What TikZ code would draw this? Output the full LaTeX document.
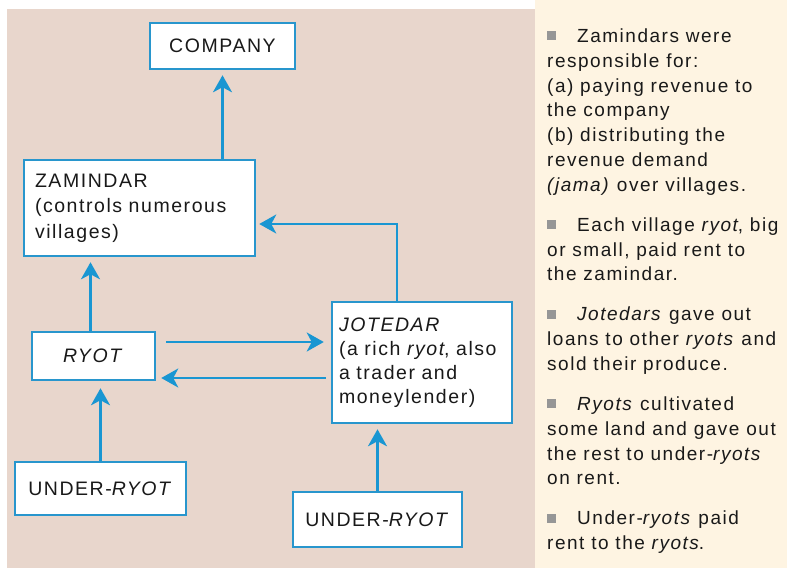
\documentclass[tikz,border=0pt]{standalone}
\usepackage{fontspec}
\setmainfont{Liberation Sans}[LetterSpace=8]
\usetikzlibrary{arrows.meta}
\definecolor{bgpink}{RGB}{232,214,204}
\definecolor{bgcream}{RGB}{254,244,226}
\definecolor{boxblue}{RGB}{40,150,205}
\definecolor{arrblue}{RGB}{25,150,210}
\definecolor{txt}{RGB}{25,25,25}
\definecolor{bulletgray}{RGB}{150,150,150}
\newcommand{\sqbullet}{\makebox[30pt][l]{\textcolor{bulletgray}{\raisebox{2pt}{\rule{9pt}{9pt}}}}}
\begin{document}
\begin{tikzpicture}[x=1pt,y=-1pt,
  box/.style={draw=boxblue, line width=2.5pt, fill=white, inner sep=0pt, text=txt,
    font=\fontsize{19.5}{25.5}\selectfont},
  conn/.style={draw=arrblue, line width=2.8pt, -{Stealth[length=17pt,width=19pt,inset=5pt]}},
  sidetext/.style={anchor=north west, inner sep=0pt, align=left, text=txt,
    font=\fontsize{19}{24.8}\selectfont}]
\useasboundingbox (0,0) rectangle (787,568);
\fill[white] (0,0) rectangle (787,568);
\fill[bgpink] (7,9) rectangle (535,568);
\fill[bgcream] (535,0) rectangle (787,568);

\node[box, minimum width=145pt, minimum height=46pt] (comp) at (222.5,46) {COMPANY};
\node[box, minimum width=231pt, minimum height=96pt, text width=209pt, align=left, inner xsep=11pt] (zam) at (139.5,208)
  {ZAMINDAR\\(controls numerous\\villages)};
\node[box, minimum width=123pt, minimum height=48pt] (ryot) at (93.5,356) {\textit{RYOT}};
\node[box, minimum width=180pt, minimum height=121pt, text width=166pt, align=left, inner xsep=7pt,
  font=\fontsize{19.5}{24}\selectfont] (jot) at (422,362.5)
  {\textit{JOTEDAR}\\(a rich \textit{ryot}, also\\a trader and\\moneylender)};
\node[box, minimum width=171pt, minimum height=53pt] (ur1) at (100.5,488.5) {UNDER-\textit{RYOT}};
\node[box, minimum width=169pt, minimum height=55pt] (ur2) at (377.5,519.5) {UNDER-\textit{RYOT}};

\coordinate (bend) at (397,224);
\coordinate (r1) at ([yshift=14pt]ryot.east);
\coordinate (r2) at ([yshift=-22pt]ryot.east);

\draw[conn, shorten >=5pt] (zam.north -| comp.south) -- (comp.south);
\draw[conn, shorten >=3pt] (jot.north -| bend) -- (bend) -- (bend -| zam.east);
\draw[conn, shorten >=5pt] ([xshift=-3pt]ryot.north) -- ([xshift=-3pt]ryot.north |- zam.south);
\draw[conn, shorten <=10pt, shorten >=7pt] (r1) -- (r1 -| jot.west);
\draw[conn, shorten <=5pt, shorten >=5pt] (r2 -| jot.west) -- (r2);
\draw[conn, shorten >=7pt] (ur1.north) -- (ur1.north |- ryot.south);
\draw[conn, shorten >=5pt] (ur2.north) -- (ur2.north |- jot.south);

\node[sidetext] (notes) at (547,28.5) {%
\sqbullet Zamindars were\\
responsible for:\\
(a) paying revenue to\\
the company\\
(b) distributing the\\
revenue demand\\
\textit{(jama)} over villages.\\[15.2pt]
\sqbullet Each village \textit{ryot}, big\\
or small, paid rent to\\
the zamindar.\\[15.2pt]
\sqbullet \textit{Jotedars} gave out\\
loans to other \textit{ryots} and\\
sold their produce.\\[15.2pt]
\sqbullet \textit{Ryots} cultivated\\
some land and gave out\\
the rest to under-\textit{ryots}\\
on rent.\\[15.2pt]
\sqbullet Under-\textit{ryots} paid\\
rent to the \textit{ryots}.};
\end{tikzpicture}
\end{document}
